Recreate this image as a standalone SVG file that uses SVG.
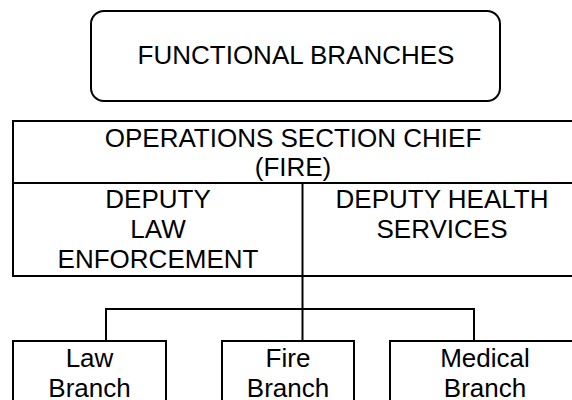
<svg xmlns="http://www.w3.org/2000/svg" width="572" height="400" viewBox="0 0 572 400">
  <style>
    .box { fill: #ffffff; stroke: #000000; stroke-width: 2; }
    .line { fill: none; stroke: #000000; stroke-width: 2; }
    text { font-family: "Liberation Sans", Arial, sans-serif; font-size: 26px; fill: #000000; text-anchor: middle; }
  </style>
  <rect width="572" height="400" fill="#ffffff"/>

  <g id="functional-branches">
    <rect class="box" x="91" y="11" width="409" height="90" rx="13" ry="13"/>
    <text x="296" y="64">FUNCTIONAL BRANCHES</text>
  </g>

  <g id="operations-chief">
    <rect class="box" x="13" y="121" width="569" height="155"/>
    <line class="line" x1="13" y1="183" x2="582" y2="183"/>
    <text x="293" y="147">OPERATIONS SECTION CHIEF</text>
    <text x="293" y="176">(FIRE)</text>
  </g>

  <g id="deputy-law">
    <line class="line" x1="302.5" y1="183" x2="302.5" y2="276"/>
    <text x="158" y="208">DEPUTY</text>
    <text x="158" y="238">LAW</text>
    <text x="158" y="268">ENFORCEMENT</text>
  </g>

  <g id="deputy-health">
    <text x="442" y="208">DEPUTY HEALTH</text>
    <text x="442" y="238">SERVICES</text>
  </g>

  <g id="connectors">
    <line class="line" x1="302.5" y1="276" x2="302.5" y2="341"/>
    <polyline class="line" points="106,341 106,309 474,309 474,341"/>
  </g>

  <g id="law-branch">
    <rect class="box" x="13" y="341" width="153" height="80"/>
    <text x="89.5" y="367">Law</text>
    <text x="89.5" y="397">Branch</text>
  </g>

  <g id="fire-branch">
    <rect class="box" x="222" y="341" width="132" height="80"/>
    <text x="288" y="367">Fire</text>
    <text x="288" y="397">Branch</text>
  </g>

  <g id="medical-branch">
    <rect class="box" x="390" y="341" width="190" height="80"/>
    <text x="485" y="367">Medical</text>
    <text x="485" y="397">Branch</text>
  </g>
</svg>
